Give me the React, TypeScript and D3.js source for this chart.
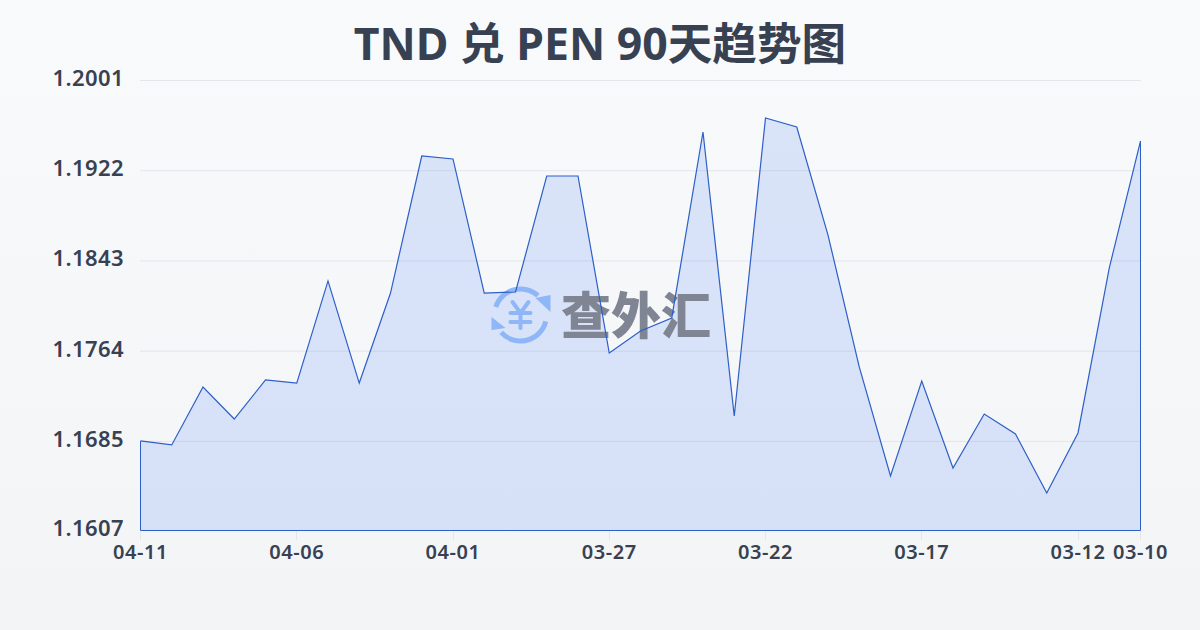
import React from "react";
import * as d3 from "d3";

const dates = ["04-11","04-10","04-09","04-08","04-07","04-06","04-05","04-04","04-03","04-02","04-01","03-31","03-30","03-29","03-28","03-27","03-26","03-25","03-24","03-23","03-22","03-21","03-20","03-19","03-18","03-17","03-16","03-15","03-14","03-13","03-12","03-11","03-10"];
const rates = [1.16854,1.16819,1.17326,1.17046,1.17388,1.17361,1.18255,1.17361,1.18149,1.19349,1.19323,1.18149,1.18158,1.19174,1.19174,1.17624,1.17817,1.17931,1.19559,1.17073,1.19682,1.19603,1.18657,1.17502,1.16547,1.17379,1.16617,1.1709,1.16915,1.16398,1.16924,1.18368,1.1948];
const yTicks = [1.1607,1.1685,1.1764,1.1843,1.1922,1.2001];
const xTickIndex = [0,5,10,15,20,25,30,32];

const W = 1200, H = 630;
const font = "'Noto Sans','Noto Sans CJK SC',sans-serif";
const ink = "#374151";
const deg = Math.PI / 180;

export default function App() {
  const x = d3.scaleLinear().domain([0, dates.length - 1]).range([140.5, 1140.5]);
  const y = d3.scaleLinear().domain([1.1607, 1.2001]).range([530.5, 80.5]);
  const line = d3.line<number>().x((_, i) => x(i)).y(d => y(d));
  const area = d3.area<number>().x((_, i) => x(i)).y0(y(1.1607)).y1(d => y(d));
  const arc = (a0: number, a1: number) =>
    d3.arc()({ innerRadius: 23.5, outerRadius: 28.5, startAngle: a0 * deg, endAngle: a1 * deg }) as string;
  return (
    <svg width={W} height={H} viewBox={`0 0 ${W} ${H}`} style={{ position: "absolute", left: 0, top: 0, display: "block" }}>
      <defs>
        <linearGradient id="bg" x1="0" y1="0" x2="0" y2="1">
          <stop offset="0" stopColor="#f9fafc" />
          <stop offset="1" stopColor="#f3f4f6" />
        </linearGradient>
      </defs>
      <rect width={W} height={H} fill="url(#bg)" />
      <text x={600} y={60} textAnchor="middle" fontFamily={font} fontSize={44.6} fontWeight={700} fill={ink}>TND 兑 PEN 90天趋势图</text>
      {yTicks.map(t => (
        <g key={t}>
          <line x1={140} x2={1141} y1={y(t)} y2={y(t)} stroke="#e3e6eb" strokeWidth={1} />
          <text x={124} y={y(t) + 5.5} textAnchor="end" fontFamily={font} fontSize={22} fontWeight={600} letterSpacing={0.4} fill={ink}>{t.toFixed(4)}</text>
        </g>
      ))}
      <path d={area(rates) as string} fill="#2f6bf0" fillOpacity={0.15} />
      <g transform="translate(520.5,315)">
        <path d={arc(-72, 42)} fill="#8fb6f7" />
        <path d={arc(104, 228)} fill="#8fb6f7" />
        <path d="M30,-20 L30,-3 L15,-17 Z" fill="#8fb6f7" />
        <path d="M-29,2 L-29,15 L-15,13 Z" fill="#8fb6f7" />
        <g stroke="#8fb6f7" strokeWidth={4} fill="none" strokeLinecap="round">
          <path d="M-8,-13 L0,-2 L8,-13" />
          <path d="M-10,-2 H10 M-10,7 H10 M0,-2 V13" />
        </g>
      </g>
      <text x={636} y={334} textAnchor="middle" fontFamily={font} fontSize={50} fontWeight={900} fill="#7f8593">查外汇</text>
      <path d={line(rates) as string} fill="none" stroke="#2c5fc8" strokeWidth={1.2} />
      <line x1={x(0)} x2={x(0)} y1={y(rates[0])} y2={530.5} stroke="#2c5fc8" />
      <line x1={x(32)} x2={x(32)} y1={y(rates[32])} y2={530.5} stroke="#2c5fc8" />
      <line x1={x(0)} x2={x(32)} y1={530.5} y2={530.5} stroke="#2c5fc8" />
      {xTickIndex.map(i => (
        <g key={i}>
          <line x1={Math.round(x(i) - 0.5) + 0.5} x2={Math.round(x(i) - 0.5) + 0.5} y1={531} y2={540} stroke="#e3e6eb" />
          <text x={x(i)} y={559} textAnchor="middle" fontFamily={font} fontSize={20} fontWeight={600} letterSpacing={0.6} fill={ink}>{dates[i]}</text>
        </g>
      ))}
    </svg>
  );
}
